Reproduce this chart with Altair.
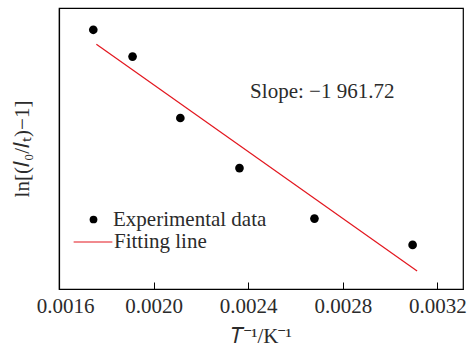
import altair as alt
import pandas as pd

# data
inv_T = [0.001745, 0.001911, 0.002113, 0.002363, 0.002680, 0.003095]
ln_val = [3.044, 2.729, 2.008, 1.420, 0.827, 0.518]

fit_x = [0.001758, 0.003114]
fit_y = [2.874, 0.212]

slope_text = ["Slope: \u22121 961.72"]
slope_x = [0.002408]
slope_y = [2.309]

x_ticks = [0.0016, 0.0020, 0.0024, 0.0028, 0.0032]
x_domain = [0.0016, 0.003308]
y_domain = [0.0, 3.3]

FONT = "Liberation Serif"
TXT = "#2b2b2b"
FS = 21

pts = pd.DataFrame({"x": inv_T, "y": ln_val, "series": ["Experimental data"] * len(inv_T)})
fit = pd.DataFrame({"x": fit_x, "y": fit_y, "series": ["Fitting line"] * len(fit_x)})
ann = pd.DataFrame({"x": slope_x, "y": slope_y, "t": slope_text})

xs = alt.Scale(domain=x_domain, nice=False, zero=False)
ys = alt.Scale(domain=y_domain, nice=False, zero=False)

points = alt.Chart(pts).mark_point(filled=True, opacity=1, size=75).encode(
    x=alt.X("x:Q", scale=xs, axis=alt.Axis(
        orient="bottom", values=x_ticks, format=".4f", ticks=False, grid=False,
        domainColor="black", domainWidth=1.2, labelFlush=False, labelOverlap=False,
        labelFont=FONT, labelFontSize=FS, labelColor=TXT, labelPadding=6,
        labelOffset={"condition": {"test": "datum.value < 0.0017", "value": 6}, "value": 0},
        title="\U0001D447\u207b\u00b9/K\u207b\u00b9", titleFont=FONT, titleFontSize=FS,
        titleFontWeight="normal", titleColor=TXT, titlePadding=9)),
    y=alt.Y("y:Q", scale=ys, axis=alt.Axis(
        labels=False, ticks=False, grid=False, domainColor="black", domainWidth=1.2,
        title="ln[(\U0001D43C\u2080/\U0001D43C\u209c)\u22121]", titleFont=FONT, titleFontSize=FS,
        titleFontWeight="normal", titleColor=TXT, titlePadding=27)),
    color=alt.Color("series:N", scale=alt.Scale(domain=["Experimental data"], range=["black"]),
                    legend=alt.Legend(title=None, orient="none", legendX=24, legendY=201,
                                      symbolSize=60, symbolType="circle", labelOffset=9,
                                      labelFont=FONT, labelFontSize=FS, labelColor=TXT,
                                      padding=0)),
)

line = alt.Chart(fit).mark_line(strokeWidth=1.2).encode(
    x=alt.X("x:Q", scale=xs, axis=alt.Axis(
        orient="top", offset=-281, values=x_ticks, labels=False, domain=False,
        grid=False, ticks=True, tickSize=7, tickColor="black", tickWidth=1, title=None)),
    y=alt.Y("y:Q", scale=ys, axis=None),
    color=alt.Color("series:N", scale=alt.Scale(domain=["Fitting line"], range=["#e3161e"]),
                    legend=alt.Legend(title=None, orient="none", legendX=14, legendY=214,
                                      symbolType="stroke", symbolSize=1500, symbolStrokeWidth=1.2,
                                      labelOffset=1, labelFont=FONT, labelFontSize=FS,
                                      labelColor=TXT, padding=0)),
)

text = alt.Chart(ann).mark_text(align="left", baseline="middle", font=FONT,
                                fontSize=FS, color=TXT).encode(
    x=alt.X("x:Q", scale=xs, axis=None), y=alt.Y("y:Q", scale=ys, axis=None), text="t:N")

chart = alt.layer(points, line, text).resolve_scale(color="independent").resolve_axis(
    x="independent", y="independent").properties(
    width=404, height=281, autosize="none",
    padding={"left": 59, "top": 8, "right": 8, "bottom": 57},
    background="white",
).configure_view(stroke="black", strokeWidth=1.2)

chart.save("out.html", embed_options={"renderer": "svg", "actions": False})
